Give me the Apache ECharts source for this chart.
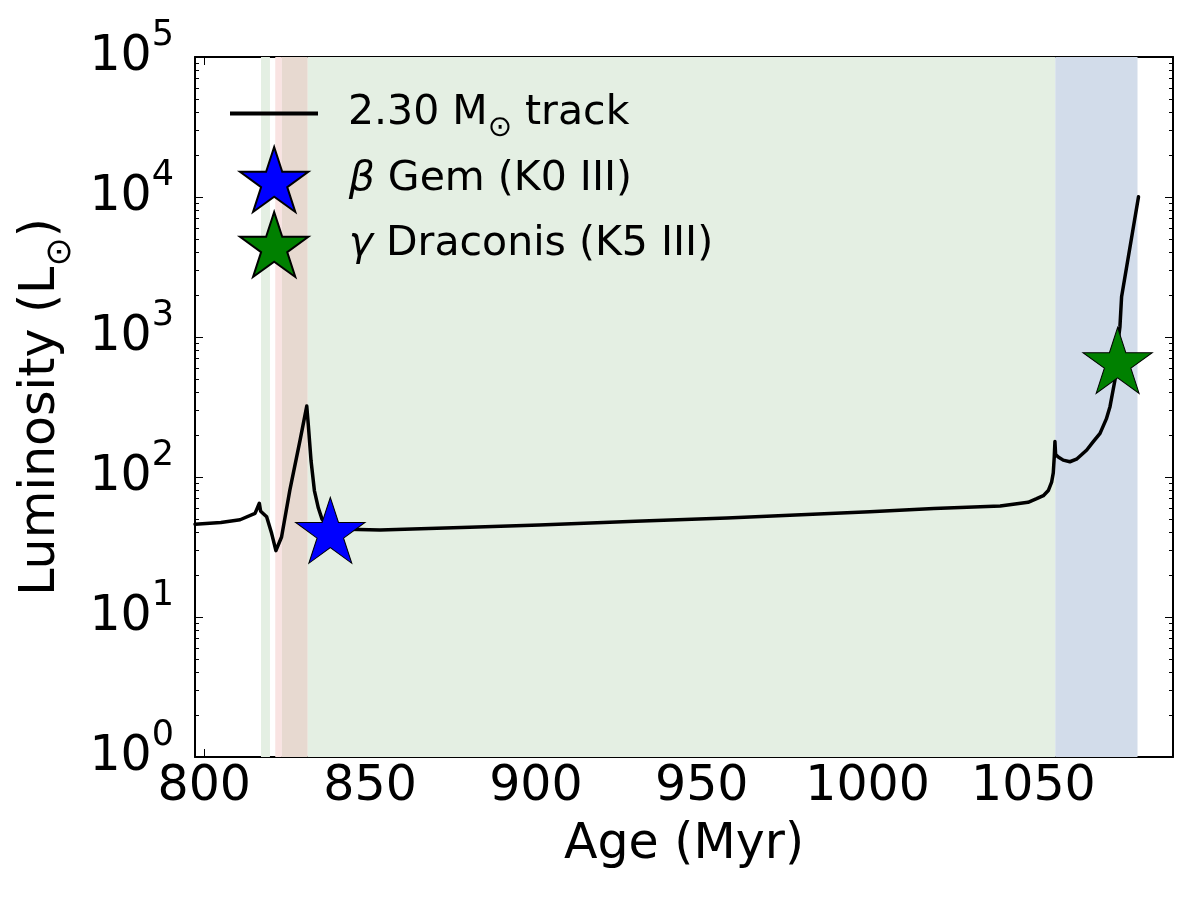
<!DOCTYPE html>
<html><head><meta charset="utf-8">
<script src="https://cdn.jsdelivr.net/npm/echarts@6/dist/echarts.min.js"></script>
<style>html,body{margin:0;padding:0;background:#fff}#c{width:1200px;height:900px}</style>
</head><body><div id="c"></div>
<script>
// ---- data ----
const trackAge = [797.2, 805, 810.8, 815.3, 816.0, 816.6, 817.0, 818.8, 820.3, 821.6, 823.3, 825.8, 828.9, 830.9, 831.4, 832.2, 833.2, 834.4, 835.5, 837, 840, 853, 880, 901, 930, 957.6, 980, 1000.7, 1020, 1040, 1048.4, 1051, 1053, 1054.5, 1055.5, 1056, 1056.3, 1056.5, 1056.7, 1057.5, 1059, 1061, 1063, 1066.1, 1068, 1070.1, 1072, 1073.1, 1074.6, 1075.6, 1076.1, 1076.6, 1081.7];
const trackLum = [46.0, 47.3, 49.5, 55, 60, 64.9, 57, 52, 39.6, 29.8, 37.3, 80.6, 184, 321, 230, 130, 80, 60, 50, 45, 42.5, 41.8, 43.8, 45.4, 48.3, 51, 53.8, 56.5, 59.5, 62, 66, 70, 73.5, 80, 92, 107, 140, 179, 145, 139, 132, 128.5, 134, 156, 178, 205, 260, 318, 493, 952, 1185, 1941, 10046];
const betaGem = [838.0, 39.3];
const gammaDra = [1075.4, 642];
const bandStart = [817.1, 821.4, 823.4, 831.2, 1056.6];
const bandEnd = [819.8, 823.4, 831.2, 1056.6, 1081.4];
const xTicks = [800, 850, 900, 950, 1000, 1050];
const yTicks = [1, 10, 100, 1000, 10000, 100000];
const yMinorMult = [2, 3, 4, 5, 6, 7, 8, 9];
const seriesNames = ['2.30 M⊙ track', 'β Gem (K0 III)', 'γ Draconis (K5 III)'];

// ---- styles ----
const bandColors = ['#e4efe3', '#f9e3e2', '#e7d9d0', '#e4efe3', '#d2dcea'];
const FONT = 'DejaVu Sans';
const STAR = 'path://M100,0 L122.45,69.1 L195.1,69.1 L136.33,111.8 L158.8,180.9 L100,138.2 L41.2,180.9 L63.67,111.8 L4.9,69.1 L77.55,69.1 Z';
const yMinor = [];
yTicks.slice(0, -1).forEach(d => yMinorMult.forEach(k => yMinor.push(k * d)));

const X_MIN = 797.2, X_MAX = 1092.1;
const trackData = trackAge.map((a, i) => [a, trackLum[i]]);
const bandData = bandStart.map((s, i) => [s, bandEnd[i], i]);

const axisLineStyle = { show: true, onZero: false, lineStyle: { color: '#000', width: 2 } };
const majorTick = (vals) => ({ show: true, inside: true, length: 8, customValues: vals, lineStyle: { color: '#000', width: 1 } });
const minorTick = (vals) => ({ show: true, inside: true, length: 4, customValues: vals, lineStyle: { color: '#000', width: 1 } });

function yAx(position, tick, labels, lineShow, extra) {
  return Object.assign({
    type: 'log', logBase: 10, min: 1, max: 100000, position: position,
    axisLine: lineShow ? axisLineStyle : { show: false },
    axisTick: tick,
    axisLabel: labels ? {
      show: true, customValues: yTicks, margin: 21, color: '#000',
      fontFamily: FONT, fontSize: 49,
      formatter: v => '10{sup|' + Math.round(Math.log10(v)) + '}',
      rich: { sup: { fontFamily: FONT, fontSize: 35, color: '#000', padding: [0, 0, 42, 0] } }
    } : { show: false },
    splitLine: { show: false }, minorTick: { show: false }, minorSplitLine: { show: false }
  }, extra || {});
}

const option = {
  animation: false,
  backgroundColor: '#fff',
  grid: { left: 195, top: 57, right: 27, bottom: 143, containLabel: false },
  xAxis: [
    {
      type: 'value', position: 'bottom', min: X_MIN, max: X_MAX,
      axisLine: axisLineStyle, axisTick: majorTick(xTicks),
      axisLabel: { customValues: xTicks, margin: 6, color: '#000', fontFamily: FONT, fontSize: 49, formatter: v => String(v) },
      splitLine: { show: false },
      name: 'Age (Myr)', nameLocation: 'middle', nameGap: 64,
      nameTextStyle: { color: '#000', fontFamily: FONT, fontSize: 49 }
    },
    {
      type: 'value', position: 'top', min: X_MIN, max: X_MAX,
      axisLine: axisLineStyle, axisTick: majorTick(xTicks),
      axisLabel: { show: false }, splitLine: { show: false }
    }
  ],
  yAxis: [
    yAx('left', majorTick(yTicks), true, true, {
      name: 'Luminosity (L{sub|⊙})', nameLocation: 'middle', nameGap: 113, nameRotate: 90,
      nameTextStyle: {
        color: '#000', fontFamily: FONT, fontSize: 49,
        rich: { sub: { fontFamily: FONT, fontSize: 35, color: '#000', padding: [40, 0, 0, 0] } }
      }
    }),
    yAx('left', minorTick(yMinor), false, false),
    yAx('right', majorTick(yTicks), false, true),
    yAx('right', minorTick(yMinor), false, false)
  ],
  legend: [
    {
      data: [{ name: seriesNames[0], icon: 'rect' }], left: 230, top: 93, padding: 0, orient: 'horizontal',
      itemWidth: 88, itemHeight: 4, selectedMode: false,
      itemStyle: { color: '#000', borderWidth: 0 },
      formatter: n => '{sp|}' + n.replace('⊙', '{sub|⊙}'),
      textStyle: {
        color: '#000', fontFamily: FONT, fontSize: 41,
        rich: {
          sp: { width: 25 },
          sub: { fontFamily: FONT, fontSize: 29, color: '#000', padding: [30, 0, 0, 0] }
        }
      }
    },
    {
      data: [{ name: seriesNames[1], icon: STAR }, { name: seriesNames[2], icon: STAR }],
      left: 239, top: 146, padding: 0, orient: 'vertical',
      itemWidth: 69, itemHeight: 65, itemGap: -2, selectedMode: false,
      formatter: n => '{sp|}' + n.replace(/^([βγ])/, '{it|$1}'),
      textStyle: {
        color: '#000', fontFamily: FONT, fontSize: 41,
        rich: {
          sp: { width: 35 },
          it: { fontFamily: FONT, fontSize: 41, fontStyle: 'italic', color: '#000' }
        }
      }
    }
  ],
  series: [
    {
      type: 'custom', name: 'bands', xAxisIndex: 0, yAxisIndex: 0, z: 1, silent: true,
      data: bandData, encode: { x: [0, 1] },
      renderItem: (params, api) => {
        const p0 = api.coord([api.value(0), 100000]);
        const p1 = api.coord([api.value(1), 1]);
        return {
          type: 'rect',
          shape: { x: p0[0], y: p0[1], width: p1[0] - p0[0], height: p1[1] - p0[1] },
          style: { fill: bandColors[api.value(2)] }
        };
      }
    },
    {
      type: 'line', name: seriesNames[0], xAxisIndex: 0, yAxisIndex: 0, z: 2,
      data: trackData, symbol: 'none', showSymbol: false, smooth: false,
      lineStyle: { color: '#000', width: 3.5, join: 'round', cap: 'round' }, itemStyle: { color: '#000' }
    },
    {
      type: 'scatter', name: seriesNames[1], xAxisIndex: 0, yAxisIndex: 0, z: 3,
      data: [betaGem], symbol: STAR, symbolSize: [69.4, 66], symbolOffset: [0, -3.5],
      itemStyle: { color: '#0000ff', borderColor: '#000', borderWidth: 1, opacity: 1 }
    },
    {
      type: 'scatter', name: seriesNames[2], xAxisIndex: 0, yAxisIndex: 0, z: 3,
      data: [gammaDra], symbol: STAR, symbolSize: [69.4, 66], symbolOffset: [0, -3.5],
      itemStyle: { color: '#008000', borderColor: '#000', borderWidth: 1, opacity: 1 }
    }
  ]
};
const chart = echarts.init(document.getElementById('c'), null, { renderer: 'canvas' });
chart.setOption(option);
</script>
</body></html>
